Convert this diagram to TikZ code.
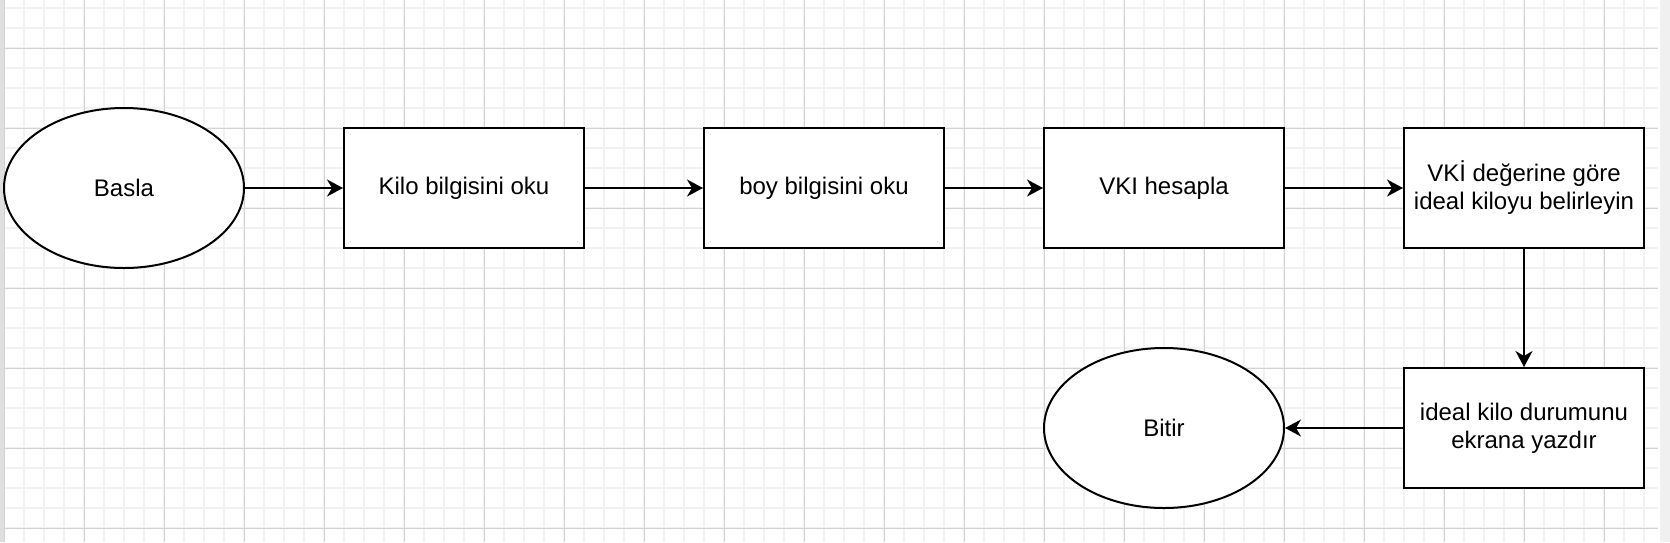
\documentclass[tikz,border=0pt]{standalone}
\usepackage{fontspec}
\setmainfont{Liberation Sans}
\usetikzlibrary{shapes.geometric,arrows.meta}

\tikzset{
  minorgrid/.style={gray!10,line width=0.75pt},
  majorgrid/.style={gray!35,line width=0.5pt},
  stepbox/.style={draw,line width=1pt,fill=white,minimum width=120pt,minimum height=60pt,
    inner sep=0pt,align=center,font=\fontsize{12}{14}\selectfont},
  terminal/.style={ellipse,draw,line width=1pt,fill=white,minimum width=120pt,minimum height=80pt,
    inner sep=0pt,font=\fontsize{12}{14}\selectfont},
  flow/.style={-{Stealth[length=8pt,width=8.5pt,inset=2.5pt]},line width=1pt}
}

\begin{document}
\begin{tikzpicture}[x=0.5pt,y=-0.5pt]
    \useasboundingbox (0,0) rectangle (1670,542);
    \fill[white] (0,0) rectangle (1670,542);
    \fill[gray!25] (0,0) rectangle (4,542);
    \fill[gray!12] (1660,0) rectangle (1670,542);
    % grid
    \foreach \x in {24,44,...,1644} \draw[minorgrid] (\x,0) -- (\x,542);
    \foreach \y in {8,28,...,542} \draw[minorgrid] (4,\y) -- (1658,\y);
    \foreach \x in {4,84,...,1604} \draw[majorgrid] (\x,0) -- (\x,542);
    \foreach \y in {48,128,...,528} \draw[majorgrid] (4,\y) -- (1658,\y);
    % flow
    \node[terminal] (basla) at (124,188) {Basla};
    \node[stepbox] (kilo) at (464,188) {Kilo bilgisini oku};
    \node[stepbox] (boy) at (824,188) {boy bilgisini oku};
    \node[stepbox] (vki) at (1164,188) {VKI hesapla};
    \node[stepbox] (ideal) at (1524,188) {VKİ değerine göre\\ideal kiloyu belirleyin};
    \node[stepbox] (yazdir) at (1524,428) {ideal kilo durumunu\\ekrana yazdır};
    \node[terminal] (bitir) at (1164,428) {Bitir};
    \draw[flow] (basla) -- (kilo);
    \draw[flow] (kilo) -- (boy);
    \draw[flow] (boy) -- (vki);
    \draw[flow] (vki) -- (ideal);
    \draw[flow] (ideal) -- (yazdir);
    \draw[flow] (yazdir) -- (bitir);
    % \draw[flow] (bitir.west) -- ++(-60,0);
\end{tikzpicture}
\end{document}
